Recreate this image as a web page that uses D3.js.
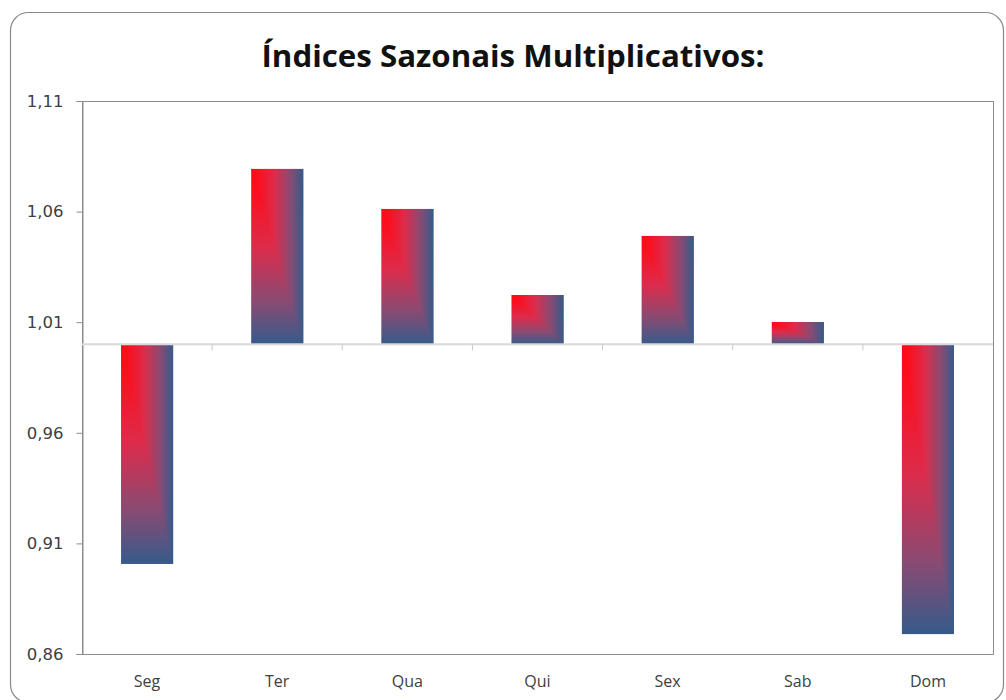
<!DOCTYPE html>
<html>
<head>
<meta charset="utf-8">
<script src="https://cdn.jsdelivr.net/npm/d3@7"></script>
<style>
  body { margin: 0; background: #fff; }
  svg { display: block; }
</style>
</head>
<body>
<div id="chart"></div>
<script>
const categories = ["Seg", "Ter", "Qua", "Qui", "Sex", "Sab", "Dom"];
const indices = [0.9007, 1.0793, 1.0612, 1.0223, 1.0490, 1.0101, 0.8690];
const yTicks = [0.86, 0.91, 0.96, 1.01, 1.06, 1.11];
const title = "Índices Sazonais Multiplicativos:";

const width = 1006, height = 700;
const margin = { top: 101, right: 13, bottom: 46, left: 82 };

const svg = d3.select("#chart").append("svg")
  .attr("width", width)
  .attr("height", height);

// outer chart frame
svg.append("rect")
  .attr("x", 10.5).attr("y", 12.5)
  .attr("width", 993).attr("height", 690)
  .attr("rx", 18)
  .attr("fill", "#fff")
  .attr("stroke", "#8a8a8a")
  .attr("stroke-width", 1.2);

// "from corner" fill: vertical ramp on the lower-left half, horizontal ramp on the upper-right half
const stops = [["0", "#ff0a14"], ["0.15", "#fa1020"], ["0.45", "#dc2c4c"], ["0.75", "#8a4a72"], ["1", "#355b8b"]];
const defs = svg.append("defs");
const gv = defs.append("linearGradient").attr("id", "gradV")
  .attr("x1", 0).attr("y1", 0).attr("x2", 0).attr("y2", 1);
const gh = defs.append("linearGradient").attr("id", "gradH")
  .attr("x1", 0).attr("y1", 0).attr("x2", 1).attr("y2", 0);
stops.forEach(([o, c]) => {
  gv.append("stop").attr("offset", o).attr("stop-color", c);
  gh.append("stop").attr("offset", o).attr("stop-color", c);
});

const x = d3.scaleBand()
  .domain(categories)
  .range([margin.left, width - margin.right])
  .paddingInner(0.6)
  .paddingOuter(0.3);

const y = d3.scaleLinear()
  .domain([0.86, 1.11])
  .range([height - margin.bottom, margin.top]);

const fmt = d3.formatLocale({ decimal: ",", thousands: ".", grouping: [3], currency: ["R$", ""] }).format(".2f");

// plot area border
svg.append("rect")
  .attr("x", margin.left + 0.5).attr("y", margin.top + 0.5)
  .attr("width", width - margin.right - margin.left)
  .attr("height", height - margin.bottom - margin.top)
  .attr("fill", "none")
  .attr("stroke", "#8c8c8c");

// y axis
const yAxis = svg.append("g")
  .attr("transform", `translate(${margin.left + 0.5},0)`)
  .attr("font-family", "'DejaVu Sans', sans-serif")
  .attr("font-size", 16.5)
  .call(d3.axisLeft(y).tickValues(yTicks).tickFormat(fmt).tickSize(6).tickPadding(13));
yAxis.attr("font-family", "'DejaVu Sans', sans-serif").attr("font-size", 16.5);
yAxis.select(".domain").attr("stroke", "#8c8c8c");
yAxis.selectAll(".tick line").attr("stroke", "#8c8c8c");
yAxis.selectAll(".tick text").attr("fill", "#404040");

// bars
const bars = svg.append("g")
  .selectAll("g")
  .data(indices)
  .join("g")
    .attr("transform", (d, i) => `translate(${x(categories[i])},${Math.min(y(d), y(1))})`);

bars.append("rect")
  .attr("width", x.bandwidth())
  .attr("height", d => Math.abs(y(d) - y(1)))
  .attr("fill", "url(#gradV)");

bars.append("path")
  .attr("d", d => {
    const w = x.bandwidth(), h = Math.abs(y(d) - y(1));
    return `M0,0H${w}V${h}Z`;
  })
  .attr("fill", "url(#gradH)");

// category axis crossing at 1,00
const step = x.step();
const bounds = d3.range(1, categories.length).map(i => x(categories[i]) - step * 0.3);
const xAxisG = svg.append("g");
xAxisG.append("line")
  .attr("x1", margin.left).attr("x2", width - margin.right)
  .attr("y1", y(1)).attr("y2", y(1))
  .attr("stroke", "#d9d9d9").attr("stroke-width", 2);
xAxisG.selectAll(".tk")
  .data(bounds)
  .join("line")
    .attr("x1", d => d).attr("x2", d => d)
    .attr("y1", y(1)).attr("y2", y(1) + 6)
    .attr("stroke", "#c8c8c8");

// category labels at the bottom
svg.append("g")
  .selectAll("text")
  .data(categories)
  .join("text")
    .attr("x", d => x(d) + x.bandwidth() / 2)
    .attr("y", height - 13)
    .attr("text-anchor", "middle")
    .attr("fill", "#404040")
    .style("font-family", "'Open Sans', sans-serif")
    .style("font-size", "16px")
    .text(d => d);

// title
svg.append("text")
  .attr("x", 513)
  .attr("y", 67)
  .attr("text-anchor", "middle")
  .attr("fill", "#111")
  .style("font-family", "'Open Sans', sans-serif")
  .style("font-weight", "bold")
  .style("font-size", "30px")
  .attr("textLength", 503)
  .attr("lengthAdjust", "spacingAndGlyphs")
  .text(title);
</script>
</body>
</html>
